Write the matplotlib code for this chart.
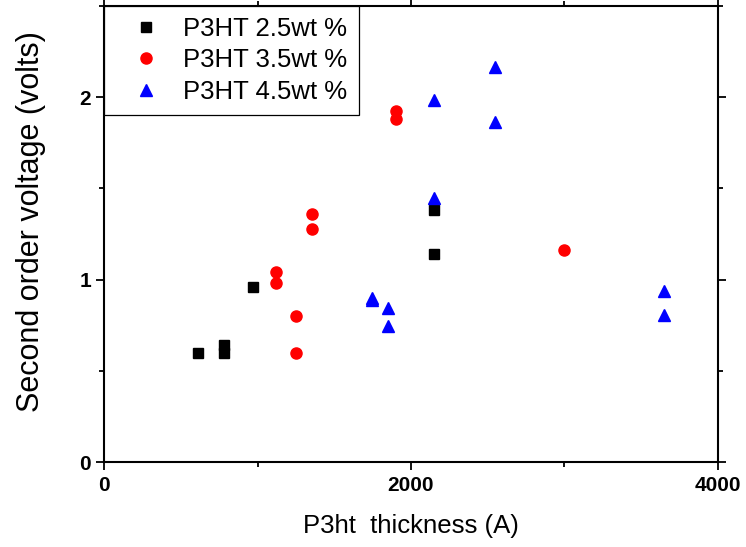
import matplotlib
matplotlib.use("Agg")
import matplotlib.pyplot as plt
from matplotlib.ticker import MultipleLocator

plt.rcParams['font.family'] = ['Liberation Sans', 'DejaVu Sans']

# thickness (A) vs second order voltage (volts)
x_25 = [609, 783, 783, 970, 2150, 2150]
y_25 = [0.60, 0.60, 0.645, 0.96, 1.38, 1.14]

x_35 = [1120, 1120, 1250, 1250, 1352, 1352, 1900, 1900, 3000]
y_35 = [1.04, 0.98, 0.80, 0.60, 1.36, 1.28, 1.925, 1.88, 1.16]

x_45 = [1748, 1748, 1850, 1850, 2150, 2150, 2550, 2550, 3650, 3650]
y_45 = [0.90, 0.89, 0.845, 0.745, 1.985, 1.445, 2.165, 1.865, 0.94, 0.805]

labels = ["P3HT 2.5wt %", "P3HT 3.5wt %", "P3HT 4.5wt %"]

fig = plt.figure(figsize=(7.46, 5.47), dpi=100)
ax = fig.add_axes([0.1398, 0.1548, 0.8222, 0.8348])

ax.plot(x_25, y_25, 's', color='black', markersize=7.5, linestyle='none', label=labels[0])
ax.plot(x_35, y_35, 'o', color='red', markersize=8, linestyle='none', label=labels[1])
ax.plot(x_45, y_45, '^', color='blue', markersize=9, linestyle='none', label=labels[2])

ax.set_xlim(0, 4000)
ax.set_ylim(0, 2.5)
ax.xaxis.set_major_locator(MultipleLocator(2000))
ax.xaxis.set_minor_locator(MultipleLocator(1000))
ax.yaxis.set_major_locator(MultipleLocator(1))
ax.yaxis.set_minor_locator(MultipleLocator(0.5))
ax.tick_params(which='both', direction='out', top=True, right=True, width=1.3)
ax.tick_params(which='major', length=6, labelsize=15)
ax.tick_params(which='minor', length=3.5)
for lab in ax.get_xticklabels() + ax.get_yticklabels():
    lab.set_fontweight('bold')
for sp in ax.spines.values():
    sp.set_linewidth(1.5)

ax.set_xlabel("P3ht  thickness (A)", fontsize=18.5, labelpad=14)
ax.set_ylabel("Second order voltage (volts)", fontsize=22)
ax.yaxis.set_label_coords(-0.095, 0.528)

leg = ax.legend(loc='upper left', bbox_to_anchor=(0, 1), borderaxespad=0,
                fontsize=18.5, fancybox=False, edgecolor='black', framealpha=1,
                handlelength=2.33, handletextpad=0.3, labelspacing=0.28,
                borderpad=0.45)
leg.get_frame().set_linewidth(0.9)

fig.savefig("out.png", dpi=100)
